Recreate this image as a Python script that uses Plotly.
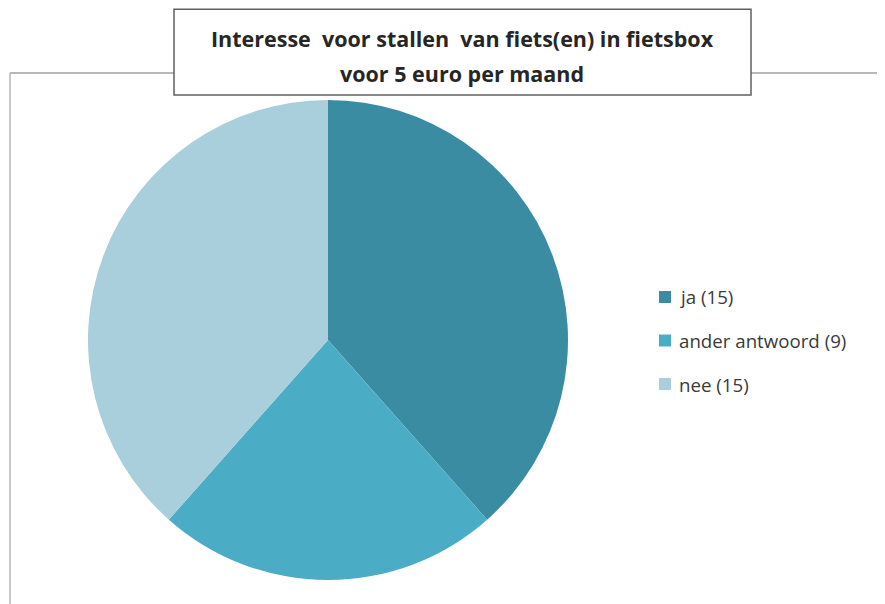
import plotly.graph_objects as go

labels = ["ja (15)", "ander antwoord (9)", "nee (15)"]
values = [15, 9, 15]
colors = ["#3A8CA3", "#4BACC6", "#A9CEDC"]
title_lines = ["Interesse  voor stallen  van fiets(en) in fietsbox", "voor 5 euro per maand"]

W, H = 885, 604
OFF = 8  # page body margin

def px(x):
    return (x - OFF) / W

def py(y):
    return 1 - (y - OFF) / H

fig = go.Figure(go.Pie(
    labels=labels,
    values=values,
    marker=dict(colors=colors, line=dict(width=0)),
    sort=False,
    direction="clockwise",
    rotation=0,
    textinfo="none",
    hoverinfo="label+value",
    showlegend=False,
    domain=dict(x=[px(88), px(568)], y=[py(580), py(100)]),
))

font_family = "Open Sans, Liberation Sans, sans-serif"

shapes = [
    dict(type="line", xref="paper", yref="paper",
         x0=px(10), x1=px(10), y0=py(73), y1=-0.05,
         line=dict(color="#C8C8C8", width=2)),
    dict(type="line", xref="paper", yref="paper",
         x0=px(10), x1=px(174), y0=py(73), y1=py(73),
         line=dict(color="#A0A0A0", width=1.5)),
    dict(type="line", xref="paper", yref="paper",
         x0=px(751), x1=1.05, y0=py(73), y1=py(73),
         line=dict(color="#A0A0A0", width=1.5)),
    dict(type="rect", xref="paper", yref="paper",
         x0=px(174), x1=px(751), y0=py(95), y1=py(9.2),
         fillcolor="white",
         line=dict(color="#606060", width=1.5)),
]

annotations = []
for i, line in enumerate(title_lines):
    annotations.append(dict(
        text="<b>" + line + "</b>",
        xref="paper", yref="paper",
        x=px(462), y=py(38 + 35 * i), xanchor="center", yanchor="middle",
        showarrow=False,
        font=dict(family=font_family, size=21.5, color="#262626")))

legend_top = 297
legend_gap = 43.5
for i, (lab, col) in enumerate(zip(labels, colors)):
    yc = legend_top + legend_gap * i
    shapes.append(dict(type="rect", xref="paper", yref="paper",
                       x0=px(659), x1=px(671), y0=py(yc + 6), y1=py(yc - 6),
                       fillcolor=col, line=dict(width=0)))
    annotations.append(dict(
        text=lab, xref="paper", yref="paper",
        x=px(677), y=py(yc), xanchor="left", yanchor="middle",
        showarrow=False,
        font=dict(family=font_family, size=18.7, color="#3A3A3A")))

fig.update_layout(
    width=W, height=H,
    margin=dict(l=0, r=0, t=0, b=0),
    paper_bgcolor="white",
    plot_bgcolor="white",
    shapes=shapes,
    annotations=annotations,
)

fig.write_html("out.html")
